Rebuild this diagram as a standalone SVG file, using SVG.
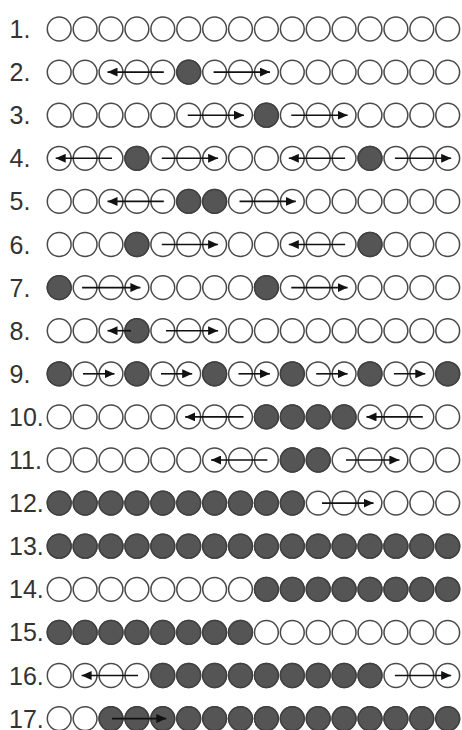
<svg xmlns="http://www.w3.org/2000/svg" xmlns:xlink="http://www.w3.org/1999/xlink" width="462" height="730" viewBox="0 0 462 730">
<style>
.e{fill:#fff;stroke:#4a4a4a;stroke-width:1.5}
.f{fill:#555;stroke:#404040;stroke-width:1.5}
.lbl{font-family:"Liberation Sans",Arial,sans-serif;font-size:25px;fill:#333}
.arr{stroke:#111;stroke-width:1.6;fill:none;marker-end:url(#ah)}
</style>
<defs>
<marker id="ah" markerUnits="userSpaceOnUse" markerWidth="11" markerHeight="9" refX="10" refY="4.5" orient="auto"><path d="M0,0 L10,4.5 L0,9 Z" fill="#111"/></marker>
<circle id="c" r="11.9"/>
<g id="blank" class="e">
<use href="#c" x="59.2"/><use href="#c" x="85.1"/><use href="#c" x="111"/><use href="#c" x="136.9"/><use href="#c" x="162.8"/><use href="#c" x="188.7"/><use href="#c" x="214.6"/><use href="#c" x="240.5"/><use href="#c" x="266.4"/><use href="#c" x="292.3"/><use href="#c" x="318.2"/><use href="#c" x="344.1"/><use href="#c" x="370"/><use href="#c" x="395.9"/><use href="#c" x="421.8"/><use href="#c" x="447.7"/>
</g>
</defs>
<rect width="462" height="730" fill="#fff"/>

<g id="row1" transform="translate(0,29)"><text class="lbl" x="9.5" y="9">1.</text><use href="#blank"/></g>
<g id="row2" transform="translate(0,72.1)"><text class="lbl" x="9.5" y="9">2.</text><use href="#blank"/><g class="f"><use href="#c" x="188.7"/></g></g>
<g id="row3" transform="translate(0,115.2)"><text class="lbl" x="9.5" y="9">3.</text><use href="#blank"/><g class="f"><use href="#c" x="266.4"/></g></g>
<g id="row4" transform="translate(0,158.3)"><text class="lbl" x="9.5" y="9">4.</text><use href="#blank"/><g class="f"><use href="#c" x="136.9"/><use href="#c" x="370"/></g></g>
<g id="row5" transform="translate(0,201.4)"><text class="lbl" x="9.5" y="9">5.</text><use href="#blank"/><g class="f"><use href="#c" x="188.7"/><use href="#c" x="214.6"/></g></g>
<g id="row6" transform="translate(0,244.5)"><text class="lbl" x="9.5" y="9">6.</text><use href="#blank"/><g class="f"><use href="#c" x="136.9"/><use href="#c" x="370"/></g></g>
<g id="row7" transform="translate(0,287.6)"><text class="lbl" x="9.5" y="9">7.</text><use href="#blank"/><g class="f"><use href="#c" x="59.2"/><use href="#c" x="266.4"/></g></g>
<g id="row8" transform="translate(0,330.7)"><text class="lbl" x="9.5" y="9">8.</text><use href="#blank"/><g class="f"><use href="#c" x="136.9"/></g></g>
<g id="row9" transform="translate(0,373.8)"><text class="lbl" x="9.5" y="9">9.</text><use href="#blank"/><g class="f"><use href="#c" x="59.2"/><use href="#c" x="136.9"/><use href="#c" x="214.6"/><use href="#c" x="292.3"/><use href="#c" x="370"/><use href="#c" x="447.7"/></g></g>
<g id="row10" transform="translate(0,416.9)"><text class="lbl" x="9" y="9">10.</text><use href="#blank"/><g class="f"><use href="#c" x="266.4"/><use href="#c" x="292.3"/><use href="#c" x="318.2"/><use href="#c" x="344.1"/></g></g>
<g id="row11" transform="translate(0,460)"><text class="lbl" x="9" y="9">11.</text><use href="#blank"/><g class="f"><use href="#c" x="292.3"/><use href="#c" x="318.2"/></g></g>
<g id="row12" transform="translate(0,503.1)"><text class="lbl" x="9" y="9">12.</text><use href="#blank"/><g class="f"><use href="#c" x="59.2"/><use href="#c" x="85.1"/><use href="#c" x="111"/><use href="#c" x="136.9"/><use href="#c" x="162.8"/><use href="#c" x="188.7"/><use href="#c" x="214.6"/><use href="#c" x="240.5"/><use href="#c" x="266.4"/><use href="#c" x="292.3"/></g></g>
<g id="row13" transform="translate(0,546.2)"><text class="lbl" x="9" y="9">13.</text><use href="#blank"/><g class="f"><use href="#c" x="59.2"/><use href="#c" x="85.1"/><use href="#c" x="111"/><use href="#c" x="136.9"/><use href="#c" x="162.8"/><use href="#c" x="188.7"/><use href="#c" x="214.6"/><use href="#c" x="240.5"/><use href="#c" x="266.4"/><use href="#c" x="292.3"/><use href="#c" x="318.2"/><use href="#c" x="344.1"/><use href="#c" x="370"/><use href="#c" x="395.9"/><use href="#c" x="421.8"/><use href="#c" x="447.7"/></g></g>
<g id="row14" transform="translate(0,589.3)"><text class="lbl" x="9" y="9">14.</text><use href="#blank"/><g class="f"><use href="#c" x="266.4"/><use href="#c" x="292.3"/><use href="#c" x="318.2"/><use href="#c" x="344.1"/><use href="#c" x="370"/><use href="#c" x="395.9"/><use href="#c" x="421.8"/><use href="#c" x="447.7"/></g></g>
<g id="row15" transform="translate(0,632.4)"><text class="lbl" x="9" y="9">15.</text><use href="#blank"/><g class="f"><use href="#c" x="59.2"/><use href="#c" x="85.1"/><use href="#c" x="111"/><use href="#c" x="136.9"/><use href="#c" x="162.8"/><use href="#c" x="188.7"/><use href="#c" x="214.6"/><use href="#c" x="240.5"/></g></g>
<g id="row16" transform="translate(0,675.5)"><text class="lbl" x="9" y="9">16.</text><use href="#blank"/><g class="f"><use href="#c" x="162.8"/><use href="#c" x="188.7"/><use href="#c" x="214.6"/><use href="#c" x="240.5"/><use href="#c" x="266.4"/><use href="#c" x="292.3"/><use href="#c" x="318.2"/><use href="#c" x="344.1"/><use href="#c" x="370"/></g></g>
<g id="row17" transform="translate(0,718.6)"><text class="lbl" x="9" y="9">17.</text><use href="#blank"/><g class="f"><use href="#c" x="111"/><use href="#c" x="136.9"/><use href="#c" x="162.8"/><use href="#c" x="188.7"/><use href="#c" x="214.6"/><use href="#c" x="240.5"/><use href="#c" x="266.4"/><use href="#c" x="292.3"/><use href="#c" x="318.2"/><use href="#c" x="344.1"/><use href="#c" x="370"/><use href="#c" x="395.9"/><use href="#c" x="421.8"/><use href="#c" x="447.7"/></g></g>

<g id="connectors" class="arr">
<line x1="163.8" y1="72.1" x2="107.5" y2="72.1"/>
<line x1="213.6" y1="72.1" x2="270" y2="72.1"/>
<line x1="187.7" y1="115.2" x2="244" y2="115.2"/>
<line x1="291.3" y1="115.2" x2="347.6" y2="115.2"/>
<line x1="112" y1="158.3" x2="55.7" y2="158.3"/>
<line x1="161.8" y1="158.3" x2="218.1" y2="158.3"/>
<line x1="345.1" y1="158.3" x2="288.8" y2="158.3"/>
<line x1="394.9" y1="158.3" x2="451.2" y2="158.3"/>
<line x1="163.8" y1="201.4" x2="107.5" y2="201.4"/>
<line x1="239.5" y1="201.4" x2="295.8" y2="201.4"/>
<line x1="161.8" y1="244.5" x2="218.1" y2="244.5"/>
<line x1="345.1" y1="244.5" x2="288.8" y2="244.5"/>
<line x1="82.1" y1="287.6" x2="140.4" y2="287.6"/>
<line x1="291.3" y1="287.6" x2="347.6" y2="287.6"/>
<line x1="131" y1="330.7" x2="107.5" y2="330.7"/>
<line x1="166" y1="330.7" x2="218.1" y2="330.7"/>
<line x1="83" y1="373.8" x2="114.5" y2="373.8"/>
<line x1="161" y1="373.8" x2="192.2" y2="373.8"/>
<line x1="238.5" y1="373.8" x2="269.9" y2="373.8"/>
<line x1="316.2" y1="373.8" x2="347.6" y2="373.8"/>
<line x1="393.9" y1="373.8" x2="425.3" y2="373.8"/>
<line x1="243.5" y1="416.9" x2="185.2" y2="416.9"/>
<line x1="422.8" y1="416.9" x2="366.5" y2="416.9"/>
<line x1="267.4" y1="460" x2="211.1" y2="460"/>
<line x1="346" y1="460" x2="399.4" y2="460"/>
<line x1="322" y1="503.1" x2="373.5" y2="503.1"/>
<line x1="138" y1="675.5" x2="81.6" y2="675.5"/>
<line x1="394.9" y1="675.5" x2="451.2" y2="675.5"/>
<line x1="112" y1="718.6" x2="166.3" y2="718.6"/>
</g>
</svg>
